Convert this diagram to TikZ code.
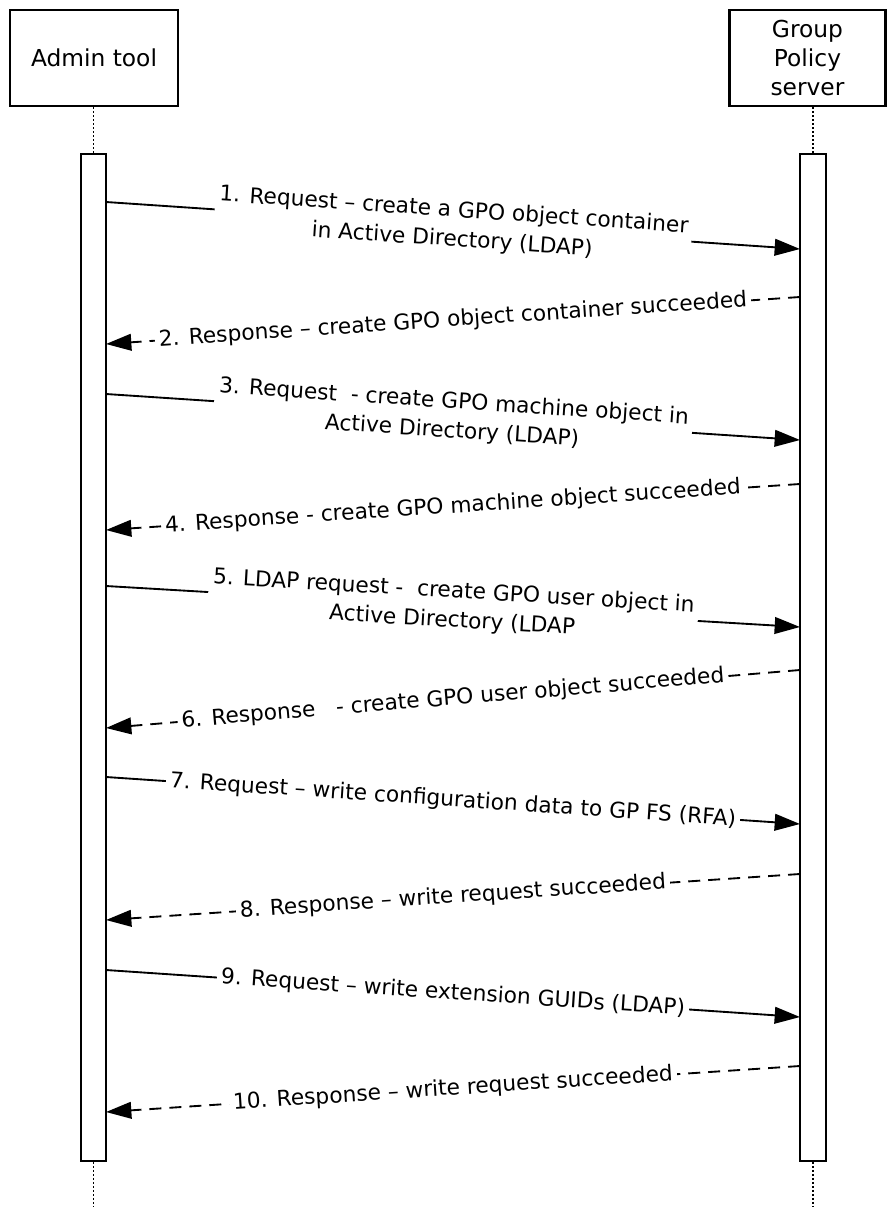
\documentclass[tikz,border=0pt]{standalone}
\usepackage{fontspec}
\setmainfont{DejaVu Sans}
\usetikzlibrary{arrows.meta, positioning}

\begin{document}
\begin{tikzpicture}[x=0.75pt, y=-0.75pt,
  actor/.style={draw, line width=1.6pt, minimum width=126pt, minimum height=72pt, inner sep=2pt, align=center, font=\fontsize{17.5}{21.5}\selectfont},
  bar/.style={draw, line width=1.6pt, fill=white, minimum width=19pt, minimum height=755pt, inner sep=0pt},
  life/.style={line width=1.2pt, dash pattern=on 1.5pt off 1.5pt},
  req/.style={line width=1.4pt, -{Triangle[length=19pt, width=12.5pt]}},
  resp/.style={req, dash pattern=on 9pt off 6pt},
  msg/.style={sloped, fill=white, inner sep=3pt, align=center, font=\fontsize{16.3}{22}\selectfont}]
\useasboundingbox (0,0) rectangle (887,1207);

% the two parties
\node[actor] (admin) at (94,58) {Admin tool};
\node[actor, minimum width=117pt] (server) at (807.5,58) {Group\\Policy\\server};

% activation bars and lifelines
\node[bar] (adminbar) at (93.5,657.5) {};
\node[bar] (serverbar) at (813,657.5) {};
\coordinate (aend) at (93.5,1207);
\coordinate (send) at (813,1207);
\draw[life] (admin.south -| adminbar.north) -- (adminbar.north);
\draw[life] (server.south -| serverbar.north) -- (serverbar.north);
\draw[life] (adminbar.south) -- (aend);
\draw[life] (serverbar.south) -- (send);

% message ends on the bars
\coordinate (a1) at (106,202);  \coordinate (s1) at (800,249);
\coordinate (s2) at (800,297);  \coordinate (a2) at (106,344);
\coordinate (a3) at (106,394);  \coordinate (s3) at (800,440);
\coordinate (s4) at (800,484);  \coordinate (a4) at (106,530);
\coordinate (a5) at (106,586);  \coordinate (s5) at (800,627);
\coordinate (s6) at (800,670);  \coordinate (a6) at (106,728);
\coordinate (a7) at (106,777);  \coordinate (s7) at (800,824);
\coordinate (s8) at (800,874);  \coordinate (a8) at (106,920);
\coordinate (a9) at (106,970);  \coordinate (s9) at (800,1017);
\coordinate (s10) at (800,1066); \coordinate (a10) at (106,1112);

% messages
\draw[req] (a1) -- node[msg] {1. Request – create a GPO object container\\in Active Directory (LDAP)} (s1);
\draw[resp] (s2) -- node[msg] {2. Response – create GPO object container succeeded} (a2);
\draw[req] (a3) -- node[msg] {3. Request\ \ - create GPO machine object in\\Active Directory (LDAP)} (s3);
\draw[resp] (s4) -- node[msg] {4. Response - create GPO machine object succeeded} (a4);
\draw[req] (a5) -- node[msg] {5. LDAP request -\ \ create GPO user object in\\Active Directory (LDAP} (s5);
\draw[resp] (s6) -- node[msg] {6. Response\ \ \ - create GPO user object succeeded} (a6);
\draw[req] (a7) -- node[msg] {7. Request – write configuration data to GP FS (RFA)} (s7);
\draw[resp] (s8) -- node[msg] {8. Response – write request succeeded} (a8);
\draw[req] (a9) -- node[msg] {9. Request – write extension GUIDs (LDAP)} (s9);
\draw[resp] (s10) -- node[msg] {10. Response – write request succeeded} (a10);
\end{tikzpicture}
\end{document}
